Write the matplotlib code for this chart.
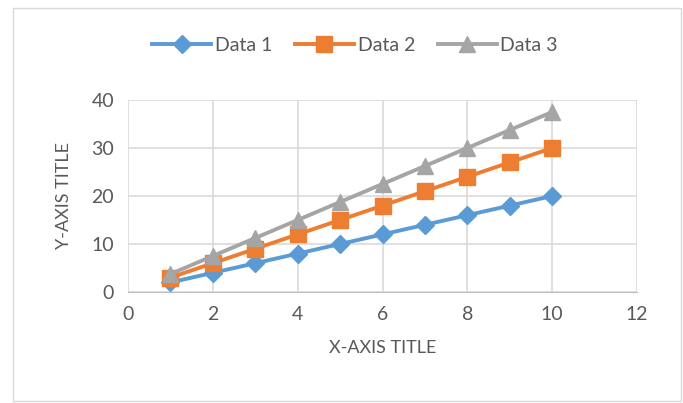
import matplotlib.pyplot as plt
from matplotlib.patches import Rectangle

x_vals = [1, 2, 3, 4, 5, 6, 7, 8, 9, 10]
data1 = [2, 4, 6, 8, 10, 12, 14, 16, 18, 20]
data2 = [3, 6, 9, 12, 15, 18, 21, 24, 27, 30]
data3 = [3.75, 7.5, 11.25, 15, 18.75, 22.5, 26.25, 30, 33.75, 37.5]
x_ticks = [0, 2, 4, 6, 8, 10, 12]
y_ticks = [0, 10, 20, 30, 40]

plt.rcParams['font.family'] = ['Lato', 'DejaVu Sans']
txt = '#595959'

fig = plt.figure(figsize=(6.83, 4.03), dpi=100)
ax = fig.add_axes([0.1874, 0.2754, 0.7453, 0.4765])

# chart border
fig.patches.append(Rectangle((0.019, 0.005), 0.978, 0.975, transform=fig.transFigure,
                             fill=False, edgecolor='#d9d9d9', linewidth=1))

ax.plot(x_vals, data1, color='#5B9BD5', lw=2.8, marker='D', ms=9, label='Data 1')
ax.plot(x_vals, data2, color='#ED7D31', lw=2.8, marker='s', ms=11, label='Data 2')
ax.plot(x_vals, data3, color='#A5A5A5', lw=2.8, marker='^', ms=12, label='Data 3')

ax.set_xlim(0, 12)
ax.set_ylim(0, 40)
ax.set_xticks(x_ticks)
ax.set_yticks(y_ticks)
ax.grid(True, color='#d9d9d9', lw=1.2)
ax.set_axisbelow(True)
for s in ['top', 'right', 'left']:
    ax.spines[s].set_visible(False)
ax.spines['bottom'].set_color('#bfbfbf')
ax.tick_params(length=0, labelsize=14, colors=txt, pad=10)

ax.set_xlabel('X-AXIS TITLE', fontsize=13, color=txt, labelpad=12)
ax.set_ylabel('Y-AXIS TITLE', fontsize=13, color=txt, labelpad=14)

fig.legend(loc='center', bbox_to_anchor=(0.52, 0.888), ncol=3, frameon=False,
           fontsize=14, labelcolor=txt, handlelength=3, columnspacing=1.2,
           handletextpad=0.2)

fig.savefig('out.png', dpi=100)
